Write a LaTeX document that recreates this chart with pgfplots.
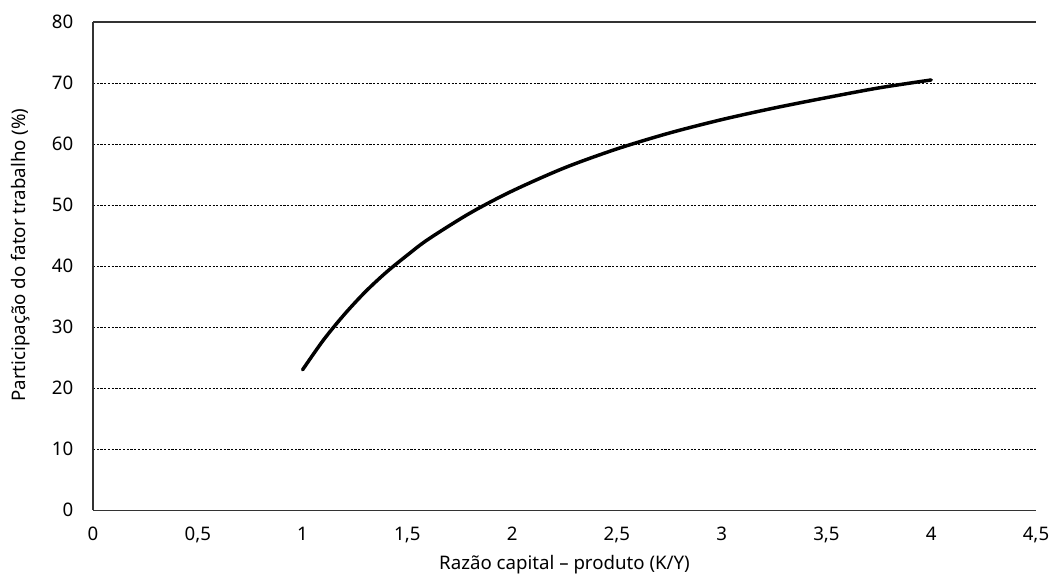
\documentclass[border=0pt]{standalone}
\usepackage{fontspec}
\setmainfont{Noto Sans}
\usepackage{pgfplots}
\pgfplotsset{compat=1.18}
\begin{document}
\fontsize{14}{16}\selectfont
\begin{tikzpicture}
\begin{axis}[
  scale only axis,
  width=707pt, height=366pt,
  xmin=0, xmax=4.5, ymin=0, ymax=80,
  xtick={0,0.5,...,4.5}, ytick={0,10,...,80},
  axis x line=box, axis y line=left,
  axis line style={draw=black!80, line width=0.9pt, -},
  major tick length=0pt,
  ymajorgrids,
  grid style={black, line width=0.5pt, dash pattern=on 1.6pt off 1.2pt},
  /pgf/number format/assume math mode=true,
  /pgf/number format/use comma,
  tick label style={font=\fontsize{14}{16}\selectfont},
  yticklabel style={anchor=east, xshift=-10pt},
  xticklabel style={anchor=base, yshift=-22.5pt},
  xlabel={Razão capital – produto (K/Y)},
  ylabel={Participação do fator trabalho (\%)},
  label style={font=\fontsize{14}{16}\selectfont},
  xlabel style={at={(axis description cs:0.5,-0.122)}, anchor=base},
  ylabel style={at={(axis description cs:-0.077,0.5225)}, anchor=center},
  clip=false,
]
\addplot[black, line width=2.6pt, smooth, line cap=round] coordinates {
(1.0,23.0) (1.1,27.9) (1.2,32.1) (1.3,35.8) (1.4,39.0) (1.5,41.8) (1.6,44.4)
(1.8,48.7) (2.0,52.3) (2.25,56.1) (2.5,59.2) (2.75,61.8) (3.0,64.0)
(3.25,65.9) (3.5,67.6) (3.75,69.2) (4.0,70.5)
};
\coordinate (ll) at (rel axis cs:0,0);
\coordinate (ur) at (rel axis cs:1,1);
\end{axis}
\pgfresetboundingbox
\path ([xshift=-69.75pt,yshift=-48pt]ll) rectangle ([xshift=13.5pt,yshift=16.5pt]ur);
\end{tikzpicture}
\end{document}
